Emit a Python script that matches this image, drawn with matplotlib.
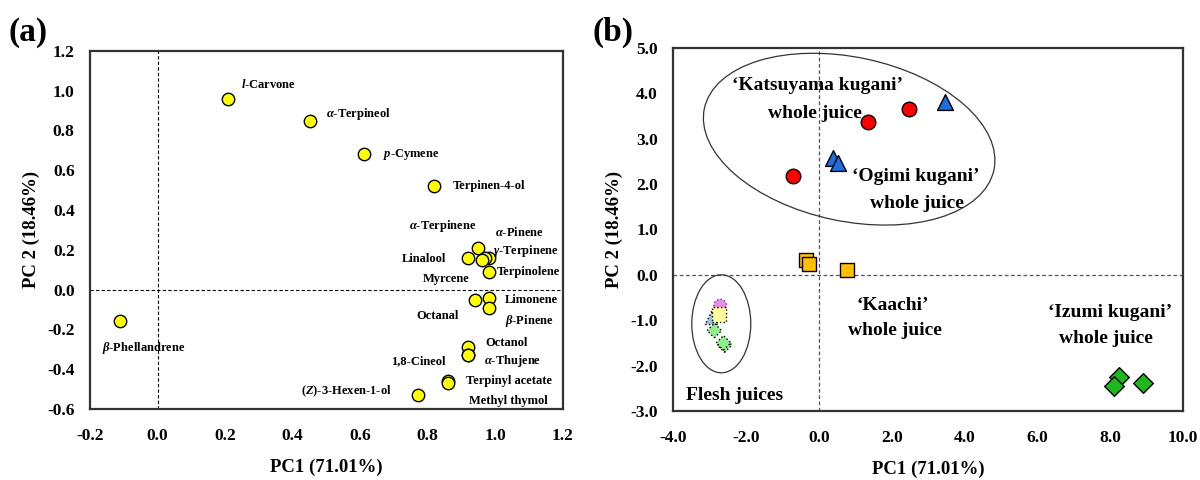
import matplotlib
matplotlib.use("Agg")
import matplotlib.pyplot as plt
from matplotlib.patches import Ellipse
from matplotlib.transforms import ScaledTranslation

plt.rcParams['font.family'] = ['Liberation Serif', 'DejaVu Serif']
plt.rcParams['font.weight'] = 'bold'
plt.rcParams['axes.labelweight'] = 'bold'
plt.rcParams['axes.unicode_minus'] = False
plt.rcParams['mathtext.fontset'] = 'custom'
plt.rcParams['mathtext.it'] = 'Liberation Serif:italic:bold'
plt.rcParams['mathtext.rm'] = 'Liberation Serif:bold'
plt.rcParams['mathtext.bf'] = 'Liberation Serif:bold'

# loading plot (a)
compounds = ["$l$-Carvone", r"$\alpha$-Terpineol", "$p$-Cymene", "Terpinen-4-ol",
             r"$\alpha$-Terpinene", "Linalool", r"$\alpha$-Pinene", r"$\gamma$-Terpinene",
             "Myrcene", "Terpinolene", "Octanal", "Limonene", r"$\beta$-Pinene",
             "Octanol", r"$\alpha$-Thujene", "1,8-Cineol", "Terpinyl acetate",
             "Methyl thymol", "($Z$)-3-Hexen-1-ol", r"$\beta$-Phellandrene"]
load_pc1 = [0.21, 0.45, 0.61, 0.82,
            0.95, 0.92, 0.98, 0.97,
            0.96, 0.98, 0.94, 0.98, 0.98,
            0.92, 0.92, 0.92, 0.86,
            0.86, 0.77, -0.11]
load_pc2 = [0.96, 0.85, 0.68, 0.52,
            0.21, 0.16, 0.16, 0.16,
            0.15, 0.09, -0.05, -0.04, -0.09,
            -0.29, -0.33, -0.33, -0.46,
            -0.47, -0.53, -0.16]

# score plot (b)
katsuyama_pc1 = [-0.70, 1.36, 2.46]
katsuyama_pc2 = [2.17, 3.36, 3.65]
ogimi_pc1 = [3.47, 0.38, 0.52]
ogimi_pc2 = [3.80, 2.58, 2.47]
kaachi_pc1 = [-0.35, -0.26, 0.77]
kaachi_pc2 = [0.33, 0.24, 0.10]
izumi_pc1 = [8.25, 8.10, 8.91]
izumi_pc2 = [-2.26, -2.45, -2.38]
flesh_katsuyama = ([-2.71], [-0.68])
flesh_ogimi = ([-2.94], [-0.95])
flesh_kaachi = ([-2.74], [-0.88])
flesh_izumi = ([-2.87, -2.59, -2.62], [-1.23, -1.55, -1.50])

# label offsets in points (dx, dy, alignment)
label_pos = [(9, 10, 'left'), (12, 5, 'left'), (14, 0, 'left'), (13, 0, 'left'),
             (-1, 16, 'right'), (-16, -1, 'right'), (5, 18, 'left'), (6, 5, 'left'),
             (-9, -14, 'right'), (6, 0, 'left'), (-12, -12, 'right'), (12, -2, 'left'),
             (12, -10, 'left'),
             (12, 3, 'left'), (11, -4, 'left'), (-16, -4, 'right'), (13, 0, 'left'),
             (15, -13, 'left'), (-19, 3, 'right'), (17, -19, 'center')]

fig = plt.figure(figsize=(12, 4.8), dpi=100)
ax1 = fig.add_axes([0.075, 0.148, 0.394, 0.746])
ax2 = fig.add_axes([0.561, 0.144, 0.425, 0.756])

for ax in (ax1, ax2):
    for sp in ax.spines.values():
        sp.set_linewidth(1.6)
        sp.set_color('#333333')
    ax.tick_params(length=0, labelsize=12.5)
    ax.tick_params(axis='x', pad=14)
    ax.tick_params(axis='y', pad=11)
    ax.set_xlabel("PC1 (71.01%)", fontsize=13.5, labelpad=10)
    ax.set_ylabel("PC 2 (18.46%)", fontsize=13.5, labelpad=5)

# (a) loadings
ax1.set_xlim(-0.2, 1.2)
ax1.set_ylim(-0.6, 1.2)
ax1.set_xticks([-0.2, 0.0, 0.2, 0.4, 0.6, 0.8, 1.0, 1.2])
ax1.set_yticks([-0.6, -0.4, -0.2, 0.0, 0.2, 0.4, 0.6, 0.8, 1.0, 1.2])
ax1.xaxis.set_major_formatter('{x:.1f}')
ax1.yaxis.set_major_formatter('{x:.1f}')
ax1.axhline(0, color='black', lw=0.8, ls=(0, (3, 2)), zorder=1)
ax1.axvline(0, color='black', lw=0.8, ls=(0, (3, 2)), zorder=1)
ax1.scatter(load_pc1, load_pc2, s=80, c='#FFFF00', edgecolors='black',
            linewidths=1.0, zorder=3)
for name, x, y, (dx, dy, ha) in zip(compounds, load_pc1, load_pc2, label_pos):
    ax1.annotate(name, (x, y), xytext=(dx, dy), textcoords='offset points',
                 ha=ha, va='center', fontsize=9, fontweight='bold')

# (b) scores
ax2.set_xlim(-4, 10)
ax2.set_ylim(-3, 5)
ax2.set_xticks([-4, -2, 0, 2, 4, 6, 8, 10])
ax2.set_yticks([-3, -2, -1, 0, 1, 2, 3, 4, 5])
ax2.xaxis.set_major_formatter('{x:.1f}')
ax2.yaxis.set_major_formatter('{x:.1f}')
ax2.axhline(0, color='#555555', lw=0.9, ls=(0, (3, 2)), zorder=1)
ax2.axvline(0, color='#555555', lw=0.9, ls=(0, (3, 2)), zorder=1)

ax2.scatter(katsuyama_pc1, katsuyama_pc2, s=110, marker='o', c='#FF0000',
            edgecolors='black', linewidths=1.0, zorder=3)
ax2.scatter(ogimi_pc1, ogimi_pc2, s=130, marker='^', c='#1C6FE0',
            edgecolors='black', linewidths=1.0, zorder=3)
ax2.scatter(kaachi_pc1, kaachi_pc2, s=110, marker='s', c='#FFC000',
            edgecolors='black', linewidths=1.0, zorder=3)
ax2.scatter(izumi_pc1, izumi_pc2, s=100, marker='D', c='#1DB81D',
            edgecolors='black', linewidths=1.0, zorder=3)

ax2.scatter(*flesh_katsuyama, s=85, marker='o', c='#E890E8',
            edgecolors='#7030A0', linewidths=1.0, linestyles=':', zorder=3)
ax2.scatter(*flesh_ogimi, s=90, marker='^', c='#9DC3E6',
            edgecolors='black', linewidths=1.0, linestyles=':', zorder=3)
ax2.scatter(*flesh_kaachi, s=110, marker='s', c='#FFFF99',
            edgecolors='black', linewidths=1.0, linestyles=':', zorder=4)
ax2.scatter(*flesh_izumi, s=55, marker='D', c='#90EE90',
            edgecolors='black', linewidths=1.0, linestyles=':', zorder=3)

# group outlines, sized in inches so the tilt is not skewed by the axis scales
big = Ellipse((0, 0), 2.96, 1.64, angle=-12, fill=False, ec='#333333', lw=0.9,
              transform=fig.dpi_scale_trans + ScaledTranslation(0.83, 2.99, ax2.transData))
small = Ellipse((0, 0), 0.59, 0.98, fill=False, ec='#333333', lw=0.9,
                transform=fig.dpi_scale_trans + ScaledTranslation(-2.68, -1.08, ax2.transData))
ax2.add_patch(big)
ax2.add_patch(small)

tkw = dict(fontsize=14, fontweight='bold', ha='center', va='center', zorder=5)
ax2.text(-0.05, 4.18, "\u2018Katsuyama kugani\u2019", **tkw)
ax2.text(-0.10, 3.56, "whole juice", **tkw)
ax2.text(2.67, 2.16, "\u2018Ogimi kugani\u2019", **tkw)
ax2.text(2.69, 1.57, "whole juice", **tkw)
ax2.text(2.04, -0.68, "\u2018Kaachi\u2019", **tkw)
ax2.text(2.09, -1.23, "whole juice", **tkw)
ax2.text(7.98, -0.83, "\u2018Izumi kugani\u2019", **tkw)
ax2.text(7.88, -1.41, "whole juice", **tkw)
ax2.text(-2.31, -2.65, "Flesh juices", **tkw)

fig.text(0.023, 0.933, "(a)", fontsize=24, fontweight='bold', ha='center', va='center')
fig.text(0.511, 0.933, "(b)", fontsize=24, fontweight='bold', ha='center', va='center')

fig.savefig("out.png", dpi=100)
